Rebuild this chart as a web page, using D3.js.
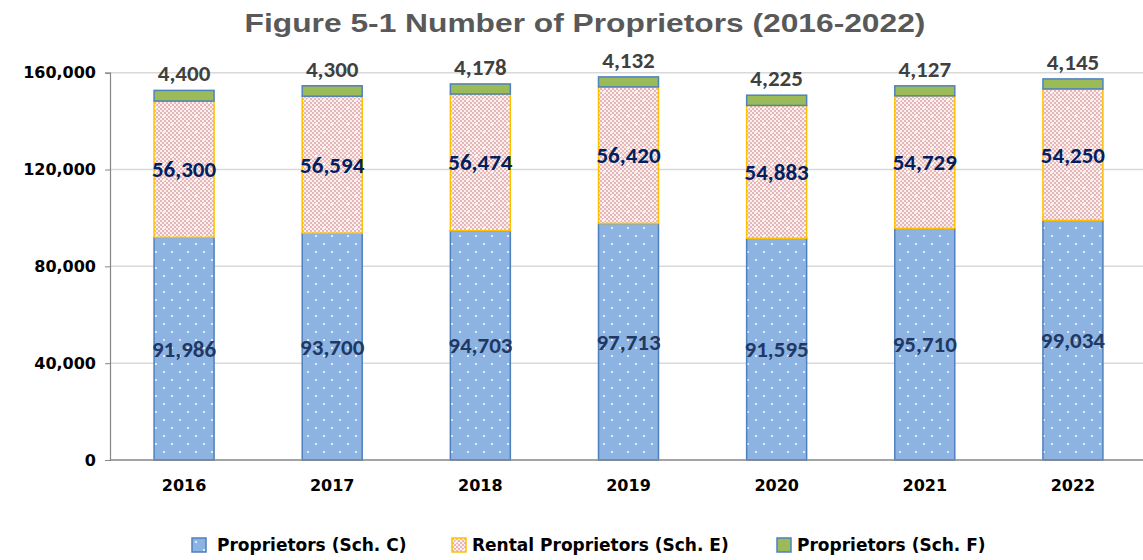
<!DOCTYPE html>
<html>
<head>
<meta charset="utf-8">
<title>Number of Proprietors</title>
<style>
  body { margin: 0; background: #fff; }
</style>
</head>
<body>
<script src="https://d3js.org/d3.v7.min.js"></script>
<script>
var years = ['2016', '2017', '2018', '2019', '2020', '2021', '2022'];
var schC = [91986, 93700, 94703, 97713, 91595, 95710, 99034];
var schE = [56300, 56594, 56474, 56420, 54883, 54729, 54250];
var schF = [4400, 4300, 4178, 4132, 4225, 4127, 4145];
var yTicks = [0, 40000, 80000, 120000, 160000];
var seriesNames = ['Proprietors (Sch. C)', 'Rental Proprietors (Sch. E)', 'Proprietors (Sch. F)'];

var width = 1143, height = 560;
var svg = d3.select('body').append('svg')
    .attr('width', width)
    .attr('height', height);

var defs = svg.append('defs');
// dotted blue for Sch. C
var pc = defs.append('pattern').attr('id', 'dotsC')
    .attr('patternUnits', 'userSpaceOnUse')
    .attr('width', 16).attr('height', 16);
pc.append('rect').attr('width', 16).attr('height', 16).attr('fill', '#8db3e2');
pc.append('circle').attr('cx', 4).attr('cy', 4).attr('r', 1).attr('fill', '#fff');
pc.append('circle').attr('cx', 12).attr('cy', 12).attr('r', 1).attr('fill', '#fff');
// pink checker for Sch. E
var pe = defs.append('pattern').attr('id', 'checkE')
    .attr('patternUnits', 'userSpaceOnUse')
    .attr('width', 16).attr('height', 16);
pe.append('rect').attr('width', 16).attr('height', 16).attr('fill', '#fbf0f0');
for (var i = 0; i < 8; i++) {
    for (var j = 0; j < 8; j++) {
        if ((i + j) % 2 === 0) {
            pe.append('rect').attr('x', i * 2).attr('y', j * 2)
                .attr('width', 2).attr('height', 2).attr('fill', '#e8b6b6');
        }
    }
}
pe.append('circle').attr('cx', 4).attr('cy', 4).attr('r', 1.1).attr('fill', '#fff');
pe.append('circle').attr('cx', 12).attr('cy', 12).attr('r', 1.1).attr('fill', '#fff');

var fills = ['url(#dotsC)', 'url(#checkE)', '#9bbb59'];
var strokes = ['#4f81bd', '#ffc000', '#4f81bd'];

var x = d3.scaleBand()
    .domain(years)
    .range([110, 1147])
    .paddingInner(0.595)
    .paddingOuter(0.2975);

var y = d3.scaleLinear()
    .domain([0, 160000])
    .range([460, 72.7]);

// gridlines
svg.append('g').selectAll('line')
    .data(yTicks.slice(1))
    .enter().append('line')
    .attr('x1', 110).attr('x2', width)
    .attr('y1', function(d) { return y(d); })
    .attr('y2', function(d) { return y(d); })
    .attr('stroke', '#d9d9d9')
    .attr('stroke-width', 1.5);

// title (stretched a little, like the original)
svg.append('text')
    .attr('transform', 'translate(585,32) scale(1.27,1)')
    .attr('text-anchor', 'middle')
    .attr('font-family', 'Liberation Sans, Arial, sans-serif')
    .attr('font-weight', 'bold')
    .attr('font-size', 25)
    .attr('fill', '#595959')
    .text('Figure 5-1 Number of Proprietors (2016-2022)');

// stacked data
var rows = years.map(function(yr, i) {
    return { year: yr, c: schC[i], e: schE[i], f: schF[i] };
});
var stack = d3.stack().keys(['c', 'e', 'f'])(rows);

var layers = svg.append('g').selectAll('g')
    .data(stack)
    .enter().append('g')
    .attr('fill', function(d, i) { return fills[i]; })
    .attr('stroke', function(d, i) { return strokes[i]; })
    .attr('stroke-width', 1.5);

layers.selectAll('rect')
    .data(function(d) { return d; })
    .enter().append('rect')
    .attr('x', function(d) { return x(d.data.year); })
    .attr('width', x.bandwidth())
    .attr('y', function(d) { return y(d[1]); })
    .attr('height', function(d) { return y(d[0]) - y(d[1]); });

// y axis
var yAxis = d3.axisLeft(y)
    .tickValues(yTicks)
    .tickSize(5)
    .tickFormat(d3.format(','));
var ya = svg.append('g')
    .attr('transform', 'translate(110,0)')
    .call(yAxis);
ya.select('.domain').attr('stroke', '#868686').attr('stroke-width', 1.2);
ya.selectAll('.tick line').attr('stroke', '#868686');
ya.selectAll('.tick text')
    .attr('x', -14)
    .attr('font-family', 'DejaVu Sans, sans-serif')
    .attr('font-weight', 'bold')
    .attr('font-size', 16)
    .attr('fill', '#000');

// x axis
var xAxis = d3.axisBottom(x).tickSize(0).tickPadding(20);
var xa = svg.append('g')
    .attr('transform', 'translate(0,460)')
    .call(xAxis);
xa.select('.domain').attr('stroke', '#868686').attr('stroke-width', 1.5)
    .attr('d', 'M110,0H' + width);
xa.selectAll('.tick text')
    .attr('font-family', 'DejaVu Sans, sans-serif')
    .attr('font-weight', 'bold')
    .attr('font-size', 16)
    .attr('fill', '#000');

var fmt = d3.format(',');
var labelFont = 'Carlito, Calibri, Open Sans, sans-serif';

// Sch C labels
svg.append('g').selectAll('text')
    .data(stack[0])
    .enter().append('text')
    .attr('x', function(d) { return x(d.data.year) + x.bandwidth() / 2; })
    .attr('y', function(d) { return (y(d[0]) + y(d[1])) / 2; })
    .attr('dy', '0.35em')
    .attr('text-anchor', 'middle')
    .attr('font-family', labelFont)
    .attr('font-weight', 'bold')
    .attr('font-size', 23)
    .attr('fill', '#1f3864')
    .text(function(d) { return fmt(d.data.c); });

// Sch E labels
svg.append('g').selectAll('text')
    .data(stack[1])
    .enter().append('text')
    .attr('x', function(d) { return x(d.data.year) + x.bandwidth() / 2; })
    .attr('y', function(d) { return (y(d[0]) + y(d[1])) / 2; })
    .attr('dy', '0.35em')
    .attr('text-anchor', 'middle')
    .attr('font-family', labelFont)
    .attr('font-weight', 'bold')
    .attr('font-size', 23)
    .attr('fill', '#002060')
    .text(function(d) { return fmt(d.data.e); });

// Sch F labels above bars
svg.append('g').selectAll('text')
    .data(stack[2])
    .enter().append('text')
    .attr('x', function(d) { return x(d.data.year) + x.bandwidth() / 2; })
    .attr('y', function(d) { return y(d[1]) - 9; })
    .attr('text-anchor', 'middle')
    .attr('font-family', labelFont)
    .attr('font-weight', 'bold')
    .attr('font-size', 23)
    .attr('fill', '#404040')
    .text(function(d) { return fmt(d.data.f); });

// legend
var legendX = [192, 452, 777];
var lg = svg.append('g').selectAll('g')
    .data(seriesNames)
    .enter().append('g')
    .attr('transform', function(d, i) { return 'translate(' + legendX[i] + ',538)'; });
lg.append('rect')
    .attr('width', 14).attr('height', 14)
    .attr('fill', function(d, i) { return fills[i]; })
    .attr('stroke', function(d, i) { return strokes[i]; })
    .attr('stroke-width', 1.5);
lg.append('text')
    .attr('x', function(d, i) { return i === 0 ? 25 : 20; })
    .attr('y', 13)
    .attr('font-family', 'DejaVu Sans, sans-serif')
    .attr('font-weight', 'bold')
    .attr('font-size', 17)
    .attr('fill', '#000')
    .text(function(d) { return d; });
</script>
</body>
</html>
